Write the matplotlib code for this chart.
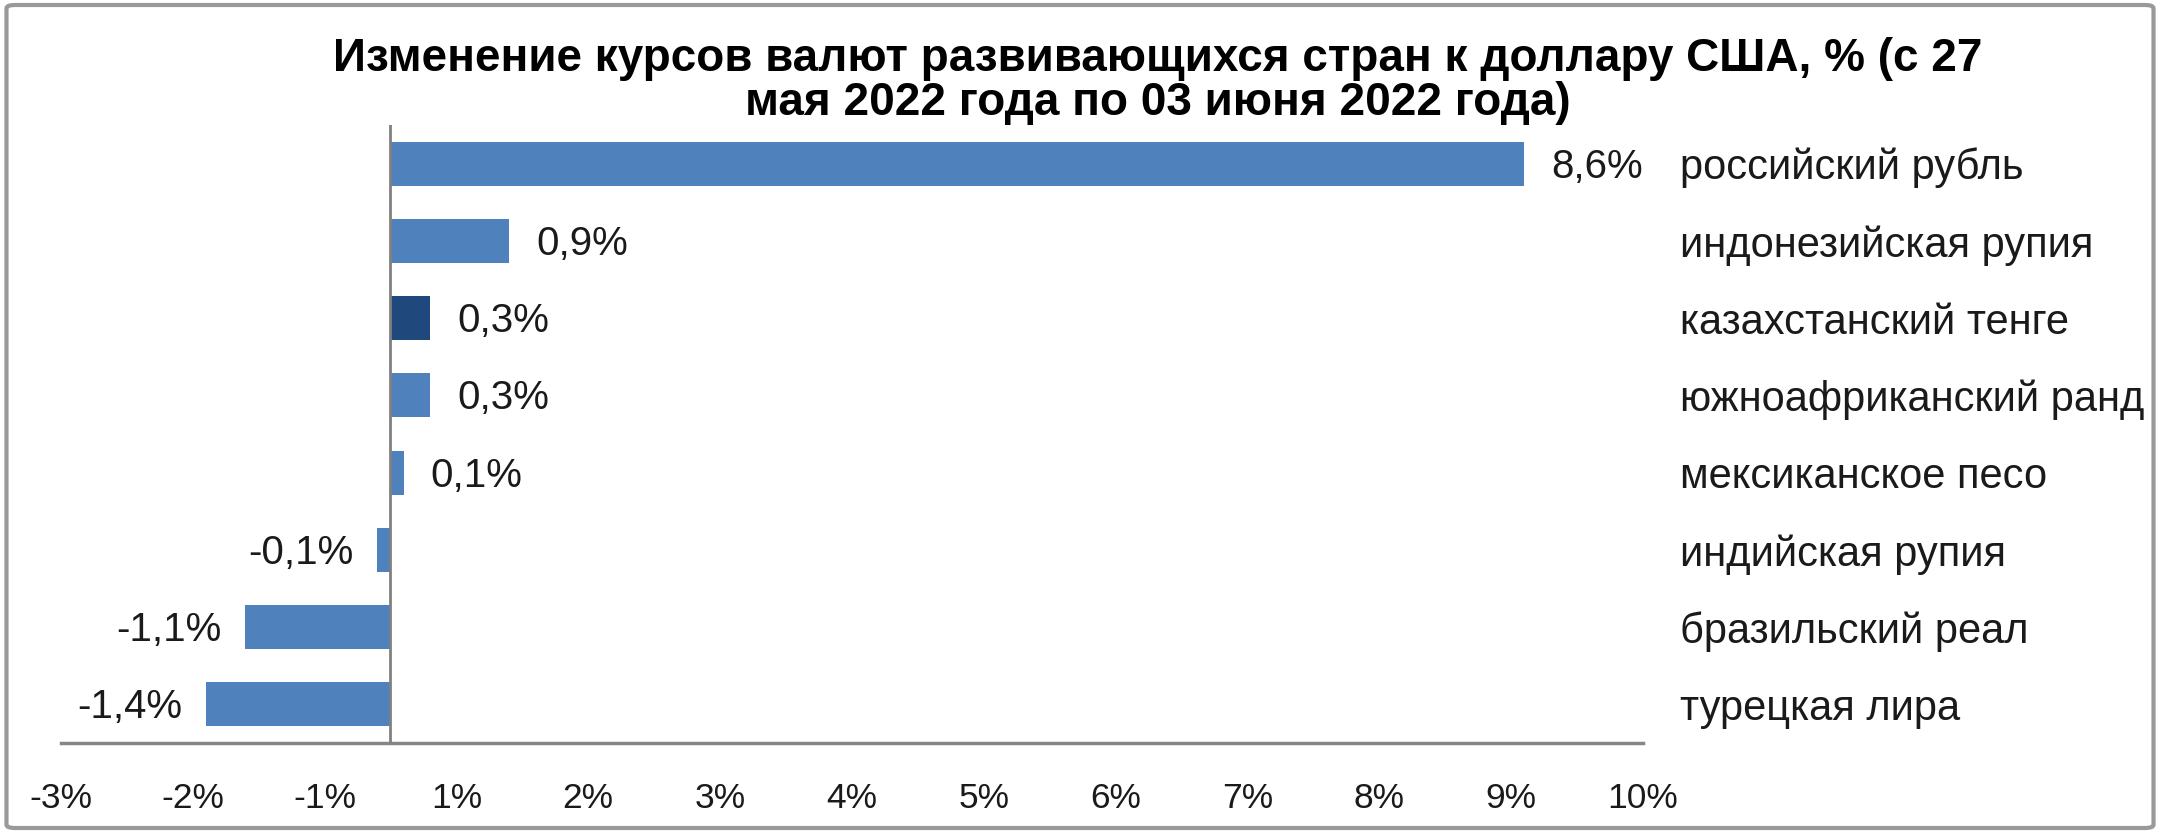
import matplotlib
matplotlib.use("Agg")
import matplotlib.pyplot as plt
from matplotlib.patches import FancyBboxPatch

plt.rcParams["font.family"] = ["Liberation Sans", "DejaVu Sans"]

# data (top to bottom)
currencies = ["российский рубль", "индонезийская рупия", "казахстанский тенге",
              "южноафриканский ранд", "мексиканское песо", "индийская рупия",
              "бразильский реал", "турецкая лира"]
changes = [8.6, 0.9, 0.3, 0.3, 0.1, -0.1, -1.1, -1.4]
value_labels = ["8,6%", "0,9%", "0,3%", "0,3%", "0,1%", "-0,1%", "-1,1%", "-1,4%"]
tick_pos = [-2.5, -1.5, -0.5, 0.5, 1.5, 2.5, 3.5, 4.5, 5.5, 6.5, 7.5, 8.5, 9.5]
tick_labels = ["-3%", "-2%", "-1%", "1%", "2%", "3%", "4%", "5%", "6%",
               "7%", "8%", "9%", "10%"]

title = ("Изменение курсов валют развивающихся стран к доллару США, % (с 27\n"
         "мая 2022 года по 03 июня 2022 года)")

colors = ["#4f81bd"] * len(changes)
colors[2] = "#1f497d"

fig = plt.figure(figsize=(21.6, 8.33), dpi=100)
ax = fig.add_axes([0.0282, 0.108, 0.7324, 0.742])

ypos = list(range(len(changes)))
ax.barh(ypos, changes, height=0.57, color=colors, zorder=2)

for y, v, lab in zip(ypos, changes, value_labels):
    if v >= 0:
        ax.annotate(lab, (v, y), xytext=(27, -3), textcoords="offset pixels",
                    ha="left", va="center", fontsize=29, color="#1a1a1a")
    else:
        ax.annotate(lab, (v, y), xytext=(-24, -3), textcoords="offset pixels",
                    ha="right", va="center", fontsize=29, color="#1a1a1a")

ax.set_xlim(-2.5, 9.5)
ax.set_ylim(len(changes) - 0.5, -0.5)
ax.axvline(0, color="#808080", lw=2, zorder=3)

ax.set_xticks(tick_pos)
ax.set_xticklabels(tick_labels, fontsize=25.5, color="#1a1a1a")
ax.tick_params(axis="x", length=0, pad=28)

ax.yaxis.tick_right()
ax.set_yticks(ypos)
ax.set_yticklabels(currencies, fontsize=30, color="#1a1a1a")
ax.tick_params(axis="y", length=0, pad=27)

for s in ["top", "left", "right"]:
    ax.spines[s].set_visible(False)
ax.spines["bottom"].set_color("#868686")
ax.spines["bottom"].set_linewidth(2.5)

fig.text(0.536, 0.903, title, ha="center", va="center", fontsize=33,
         fontweight="bold", linespacing=1.0)

border = FancyBboxPatch((0.003, 0.006), 0.994, 0.988,
                        boxstyle="round,pad=0,rounding_size=0.004",
                        transform=fig.transFigure, fill=False,
                        edgecolor="#999999", lw=3)
fig.patches.append(border)

fig.savefig("out.png", dpi=100)
